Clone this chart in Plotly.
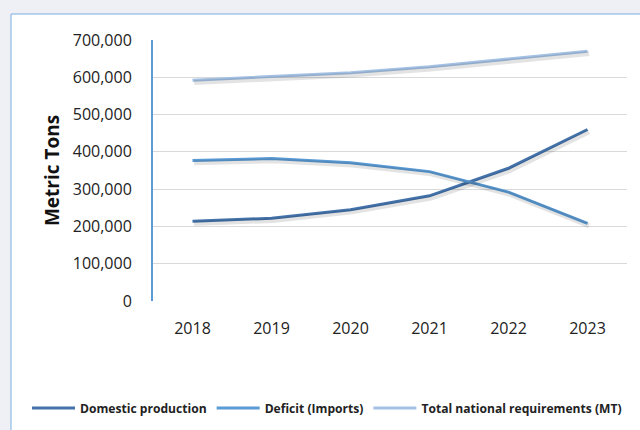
import plotly.graph_objects as go

years = ["2018", "2019", "2020", "2021", "2022", "2023"]
domestic = [214000, 222000, 245000, 282000, 356000, 460000]
deficit = [377000, 382000, 371000, 347000, 292000, 208000]
total = [592000, 603000, 612000, 628000, 648000, 670000]
y_ticks = [0, 100000, 200000, 300000, 400000, 500000, 600000, 700000]

series = [
    ("Domestic production", domestic, "#4473ab"),
    ("Deficit (Imports)", deficit, "#5b9bd5"),
    ("Total national requirements (MT)", total, "#a5c2e5"),
]

fig = go.Figure()
# soft shadows drawn on offset overlay axes
for name, vals, col in series:
    fig.add_trace(go.Scatter(x=years, y=vals, mode="lines", xaxis="x2", yaxis="y2",
                             line=dict(color="rgba(0,0,0,0.11)", width=5),
                             showlegend=False, hoverinfo="skip"))
for name, vals, col in series:
    fig.add_trace(go.Scatter(x=years, y=vals, mode="lines", name=name,
                             line=dict(color=col, width=3)))

L, R, T, B = 153, 13, 40, 129
W, H = 640, 430
pw, ph = W - L - R, H - T - B

def px_x(p):
    return (p - L) / pw

def px_y(p):
    return (H - B - p) / ph

fig.add_shape(type="rect", xref="paper", yref="paper",
              x0=px_x(11), x1=px_x(660), y0=px_y(450), y1=px_y(14),
              fillcolor="white", line=dict(color="#7aaee0", width=1), layer="below")

fig.update_layout(
    width=W, height=H,
    margin=dict(l=L, r=R, t=T, b=B, autoexpand=False),
    paper_bgcolor="#eef0f5",
    plot_bgcolor="rgba(0,0,0,0)",
    font=dict(family="Open Sans", color="#222222"),
    showlegend=True,
    legend=dict(orientation="h", xanchor="left", x=px_x(27), yanchor="middle", y=px_y(408),
                font=dict(size=12.1, family="Open Sans", color="#222222", weight="bold"),
                bgcolor="rgba(0,0,0,0)", itemwidth=43, tracegroupgap=0),
    xaxis=dict(type="category", range=[-0.5, 5.5], showgrid=False, showline=False, zeroline=False,
               ticks="", tickfont=dict(size=16, color="#222222"), ticklabelstandoff=16),
    yaxis=dict(range=[0, 700000], tickvals=y_ticks, tickformat=",d",
               showgrid=True, gridcolor="#d9d9d9", gridwidth=1,
               showline=True, linecolor="#5b9bd5", linewidth=2, zeroline=False,
               ticks="", tickfont=dict(size=16, color="#222222"), ticklabelstandoff=16,
               title=dict(text="Metric Tons", font=dict(size=19, color="#111111", weight="bold"),
                          standoff=8)),
    xaxis2=dict(type="category", overlaying="x", range=[-0.52, 5.48], visible=False),
    yaxis2=dict(overlaying="y", range=[6000, 706000], visible=False),
)

fig.write_html("out.html", config={"displayModeBar": False},
               post_script="document.body.style.margin='0';")
